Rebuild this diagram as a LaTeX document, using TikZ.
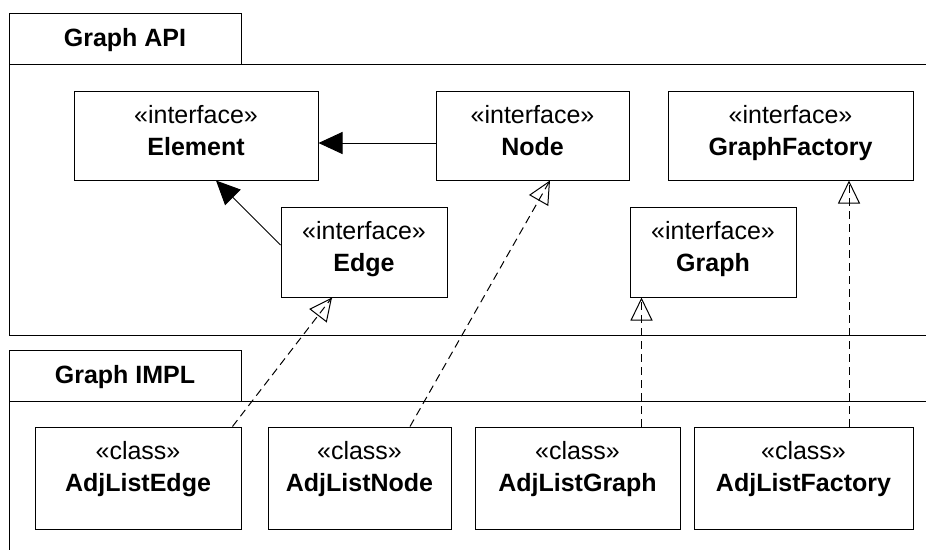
\documentclass[tikz,border=0pt]{standalone}
\usepackage{fontspec}
\setmainfont{Liberation Sans}
\usetikzlibrary{arrows.meta,decorations.markings}

\tikzset{
  umlbox/.style={draw, line width=1pt, inner sep=0pt, rectangle},
  stereo/.style={anchor=base, inner sep=0pt, font=\fontsize{25pt}{30pt}\selectfont},
  cname/.style={anchor=base, inner sep=0pt, font=\fontsize{25pt}{30pt}\selectfont\bfseries},
  frame/.style={line width=1pt},
  generalize/.style={line width=1pt, -{Triangle[length=24pt, width=22pt]}},
  realize/.style={line width=1pt, dash pattern=on 8pt off 5pt,
    decoration={markings, mark=at position 1 with {\arrow{Triangle[open, length=23pt, width=22pt, line width=1pt]}}},
    postaction={decorate}},
}

\begin{document}
\begin{tikzpicture}[x=1pt, y=-1pt]
  \useasboundingbox (0,0) rectangle (926,550);

  % package Graph API
  \node[umlbox, minimum width=232pt, minimum height=51pt] (apitab) at (125,38.5) {};
  \node[cname] at ([yshift=-8pt]apitab.center) {Graph API};
  \draw[frame] (926,64) -- (9,64) -- (9,335) -- (926,335);

  % package Graph IMPL
  \node[umlbox, minimum width=232pt, minimum height=51pt] (impltab) at (125,375.5) {};
  \node[cname] at ([yshift=-8pt]impltab.center) {Graph IMPL};
  \draw[frame] (926,401) -- (9,401) -- (9,550);

  % interfaces
  \node[umlbox, minimum width=244pt, minimum height=89pt] (element) at (196,135.5) {};
  \node[stereo] at ([yshift=-33pt]element.north) {«interface»};
  \node[cname] at ([yshift=-65pt]element.north) {Element};

  \node[umlbox, minimum width=193pt, minimum height=89pt] (node) at (532.5,135.5) {};
  \node[stereo] at ([yshift=-33pt]node.north) {«interface»};
  \node[cname] at ([yshift=-65pt]node.north) {Node};

  \node[umlbox, minimum width=245pt, minimum height=89pt] (gfactory) at (790.5,135.5) {};
  \node[stereo] at ([yshift=-33pt]gfactory.north) {«interface»};
  \node[cname] at ([yshift=-65pt]gfactory.north) {GraphFactory};

  \node[umlbox, minimum width=166pt, minimum height=90pt] (edge) at (364,252) {};
  \node[stereo] at ([yshift=-33pt]edge.north) {«interface»};
  \node[cname] at ([yshift=-65pt]edge.north) {Edge};

  \node[umlbox, minimum width=166pt, minimum height=90pt] (graph) at (713,252) {};
  \node[stereo] at ([yshift=-33pt]graph.north) {«interface»};
  \node[cname] at ([yshift=-65pt]graph.north) {Graph};

  % classes
  \node[umlbox, minimum width=206pt, minimum height=102pt] (aedge) at (138,478) {};
  \node[stereo] at ([yshift=-33pt]aedge.north) {«class»};
  \node[cname] at ([yshift=-65pt]aedge.north) {AdjListEdge};

  \node[umlbox, minimum width=183pt, minimum height=102pt] (anode) at (359.5,478) {};
  \node[stereo] at ([yshift=-33pt]anode.north) {«class»};
  \node[cname] at ([yshift=-65pt]anode.north) {AdjListNode};

  \node[umlbox, minimum width=205pt, minimum height=102pt] (agraph) at (577.5,478) {};
  \node[stereo] at ([yshift=-33pt]agraph.north) {«class»};
  \node[cname] at ([yshift=-65pt]agraph.north) {AdjListGraph};

  \node[umlbox, minimum width=219pt, minimum height=102pt] (afactory) at (803.5,478) {};
  \node[stereo] at ([yshift=-33pt]afactory.north) {«class»};
  \node[cname] at ([yshift=-65pt]afactory.north) {AdjListFactory};

  % generalizations
  \draw[generalize] ([yshift=-7.5pt]node.west) -- ([yshift=-7.5pt]element.east);
  \draw[generalize] ([yshift=7pt]edge.west) -- ([xshift=20pt]element.south);

  % realizations
  \coordinate (gtip) at ([xshift=12pt]graph.south west);
  \coordinate (ftip) at ([xshift=58.5pt]gfactory.south);
  \draw[realize] ([xshift=-9pt]aedge.north east) -- ([xshift=-32pt]edge.south);
  \draw[realize] ([xshift=50.5pt]anode.north) -- ([xshift=17.5pt]node.south);
  \draw[realize] (agraph.north -| gtip) -- (gtip);
  \draw[realize] (afactory.north -| ftip) -- (ftip);
\end{tikzpicture}
\end{document}
